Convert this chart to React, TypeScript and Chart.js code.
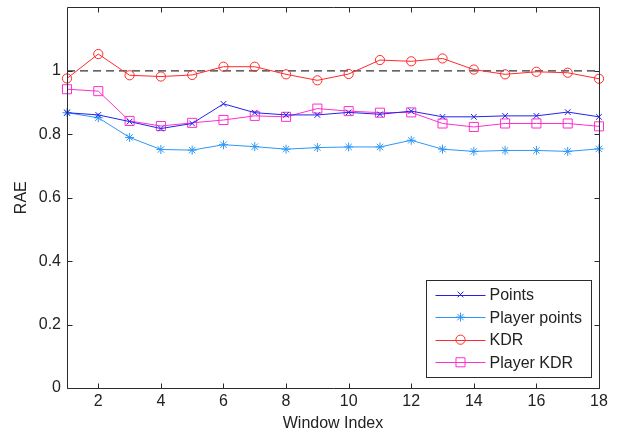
import React, { useEffect, useRef } from 'react';
import { Chart, registerables } from 'chart.js';

Chart.register(...registerables);

// ---- data ----
const windowIndex = [1, 2, 3, 4, 5, 6, 7, 8, 9, 10, 11, 12, 13, 14, 15, 16, 17, 18];
const pointsRAE = [0.868, 0.861, 0.84, 0.818, 0.834, 0.896, 0.868, 0.861, 0.861, 0.869, 0.863, 0.873, 0.855, 0.855, 0.858, 0.858, 0.87, 0.855];
const playerPointsRAE = [0.868, 0.852, 0.79, 0.752, 0.75, 0.767, 0.761, 0.753, 0.758, 0.76, 0.76, 0.781, 0.753, 0.746, 0.749, 0.749, 0.746, 0.754];
const kdrRAE = [0.976, 1.053, 0.986, 0.982, 0.987, 1.013, 1.013, 0.989, 0.97, 0.99, 1.034, 1.03, 1.039, 1.004, 0.989, 0.997, 0.994, 0.975];
const playerKdrRAE = [0.942, 0.936, 0.842, 0.826, 0.836, 0.845, 0.858, 0.855, 0.881, 0.873, 0.868, 0.869, 0.834, 0.823, 0.834, 0.834, 0.834, 0.825];
const baselineRAE = [1, 1];
const baselineX = [1, 18];
const seriesLabels = ['Points', 'Player points', 'KDR', 'Player KDR'];
const xTickValues = [2, 4, 6, 8, 10, 12, 14, 16, 18];
const yTickValues = [0, 0.2, 0.4, 0.6, 0.8, 1];
const yTickLabels = ['0', '0.2', '0.4', '0.6', '0.8', '1'];
const xTitle = 'Window Index';
const yTitle = 'RAE';

const FONT = '"Liberation Sans", Arial, Helvetica, sans-serif';
const TEXT = '#222';
const AXIS = '#2b2b2b';

const toXY = (xs: number[], ys: number[]) => xs.map((x, i) => ({ x, y: ys[i] }));

function drawMarker(ctx: CanvasRenderingContext2D, style: string, x: number, y: number, r: number) {
  ctx.beginPath();
  if (style === 'circle') {
    ctx.arc(x, y, r, 0, Math.PI * 2);
  } else if (style === 'rect') {
    const s = Math.SQRT1_2 * r;
    ctx.rect(x - s, y - s, 2 * s, 2 * s);
  } else {
    const d = Math.SQRT1_2 * r;
    ctx.moveTo(x - d, y - d); ctx.lineTo(x + d, y + d);
    ctx.moveTo(x - d, y + d); ctx.lineTo(x + d, y - d);
    if (style === 'star') {
      ctx.moveTo(x, y - r); ctx.lineTo(x, y + r);
      ctx.moveTo(x - r, y); ctx.lineTo(x + r, y);
    }
  }
  ctx.stroke();
}

const framePlugin = {
  id: 'frame',
  afterDatasetsDraw(chart: any) {
    const { ctx, chartArea: a, scales } = chart;
    const xs = scales.x, ys = scales.y;
    const L = Math.round(a.left) + 0.5, R = Math.round(a.right) + 0.5;
    const T = Math.round(a.top) + 0.5, B = Math.round(a.bottom) + 0.5;
    ctx.save();
    ctx.strokeStyle = AXIS;
    ctx.lineWidth = 1;
    ctx.beginPath();
    ctx.rect(L, T, R - L, B - T);
    ctx.stroke();
    const tl = 5;
    ctx.beginPath();
    xTickValues.forEach((v) => {
      const px = Math.round(xs.getPixelForValue(v)) + 0.5;
      ctx.moveTo(px, B); ctx.lineTo(px, B - tl);
      ctx.moveTo(px, T); ctx.lineTo(px, T + tl);
    });
    yTickValues.forEach((v) => {
      const py = Math.round(ys.getPixelForValue(v)) + 0.5;
      ctx.moveTo(L, py); ctx.lineTo(L + tl, py);
      ctx.moveTo(R, py); ctx.lineTo(R - tl, py);
    });
    ctx.stroke();
    ctx.restore();
  },
  afterDraw(chart: any) {
    const { ctx, chartArea: a } = chart;
    const ds = chart.data.datasets.filter((d: any) => seriesLabels.includes(d.label));
    const w = 165, rowH = 22.6;
    const h = 97;
    const bx = Math.round(a.right - 8 - w) + 0.5;
    const by = Math.round(a.bottom - 11 - h) + 0.5;
    ctx.save();
    ctx.fillStyle = '#fff';
    ctx.fillRect(bx, by, w, h);
    ctx.strokeStyle = AXIS;
    ctx.lineWidth = 1;
    ctx.strokeRect(bx, by, w, h);
    ctx.font = `16px ${FONT}`;
    ctx.textBaseline = 'middle';
    ctx.textAlign = 'left';
    ds.forEach((d: any, i: number) => {
      const cy = by + 14 + i * rowH;
      ctx.strokeStyle = d.borderColor;
      ctx.lineWidth = 1;
      ctx.beginPath();
      ctx.moveTo(bx + 9, Math.round(cy) + 0.5);
      ctx.lineTo(bx + 59, Math.round(cy) + 0.5);
      ctx.stroke();
      drawMarker(ctx, d.pointStyle, bx + 34, cy, d.pointRadius);
      ctx.fillStyle = TEXT;
      ctx.fillText(d.label, bx + 63, cy + 1);
    });
    ctx.restore();
  },
};

export default function App() {
  const ref = useRef<HTMLCanvasElement | null>(null);
  useEffect(() => {
    document.body.style.margin = '0';
    document.body.style.background = '#fff';
    if (!ref.current) return;
    const mk = (label: string, ys: number[], color: string, style: string, r: number) => ({
      label,
      data: toXY(windowIndex, ys),
      borderColor: color,
      backgroundColor: 'rgba(0,0,0,0)',
      pointBorderColor: color,
      pointBackgroundColor: 'rgba(0,0,0,0)',
      borderWidth: 1,
      pointBorderWidth: 1,
      pointStyle: style,
      pointRadius: r,
      pointHoverRadius: r,
      tension: 0,
      clip: 12,
    });
    const chart = new Chart(ref.current, {
      type: 'line',
      data: {
        datasets: [
          mk(seriesLabels[0], pointsRAE, '#2222ee', 'crossRot', 4),
          mk(seriesLabels[1], playerPointsRAE, '#2f97f7', 'star', 4.5),
          mk(seriesLabels[2], kdrRAE, '#ff2a2a', 'circle', 4.6),
          mk(seriesLabels[3], playerKdrRAE, '#ff2fcc', 'rect', 6.4),
          {
            label: 'baseline',
            data: toXY(baselineX, baselineRAE),
            borderColor: '#333',
            borderWidth: 1.3,
            borderDash: [8, 5],
            pointRadius: 0,
            tension: 0,
          } as any,
        ],
      },
      options: {
        animation: false,
        responsive: false,
        events: [],
        layout: { padding: { top: 5, right: 18, left: 0, bottom: 0 } },
        plugins: { legend: { display: false }, tooltip: { enabled: false } },
        scales: {
          x: {
            type: 'linear',
            min: 1,
            max: 18,
            grid: { display: false, drawTicks: false },
            border: { display: false },
            afterBuildTicks: (s: any) => { s.ticks = xTickValues.map((v) => ({ value: v })); },
            afterFit: (s: any) => { s.height = 47; s.paddingLeft = 0; s.paddingRight = 0; },
            ticks: {
              color: TEXT,
              font: { family: FONT, size: 16 },
              padding: 4,
              maxRotation: 0,
              autoSkip: false,
              callback: (v: any) => String(v),
            },
            title: {
              display: true,
              text: xTitle,
              color: TEXT,
              font: { family: FONT, size: 16 },
              padding: { top: 0, bottom: 2 },
            },
          },
          y: {
            type: 'linear',
            min: 0,
            max: 1.2,
            grid: { display: false, drawTicks: false },
            border: { display: false },
            afterBuildTicks: (s: any) => { s.ticks = yTickValues.map((v) => ({ value: v })); },
            afterFit: (s: any) => { s.width = 67; s.paddingTop = 0; s.paddingBottom = 0; },
            ticks: {
              color: TEXT,
              font: { family: FONT, size: 16 },
              padding: 6,
              autoSkip: false,
              callback: (v: any) => {
                const i = yTickValues.findIndex((t) => Math.abs(t - v) < 1e-9);
                return i >= 0 ? yTickLabels[i] : '';
              },
            },
            title: {
              display: true,
              text: yTitle,
              color: TEXT,
              font: { family: FONT, size: 16 },
              padding: { top: 12, bottom: 0 },
            },
          },
        },
      },
      plugins: [framePlugin],
    } as any);
    return () => chart.destroy();
  }, []);
  return <canvas ref={ref} width={617} height={435} style={{ display: 'block' }} />;
}
